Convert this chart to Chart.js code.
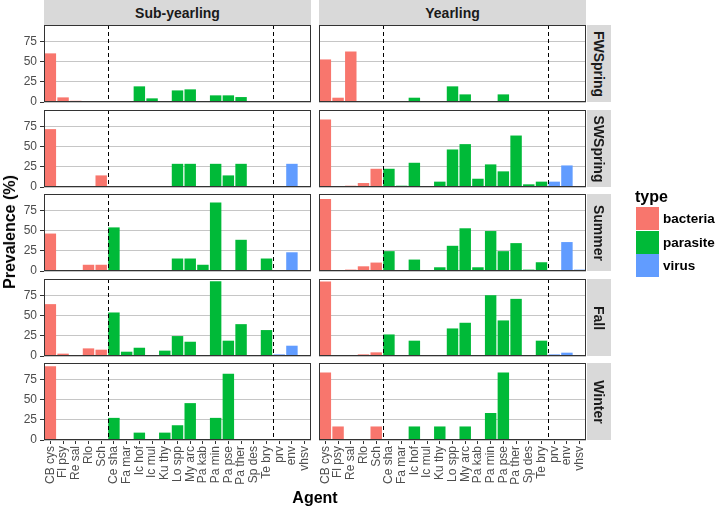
<!DOCTYPE html>
<html>
<head>
<meta charset="utf-8">
<script src="https://cdn.jsdelivr.net/npm/chart.js@4.4.1/dist/chart.umd.min.js"></script>
<style>
  body { margin: 0; background: #fff; }
  #wrap { position: relative; width: 726px; height: 510px; overflow: hidden; font-family: "Liberation Sans", Arial, sans-serif; }
  #wrap canvas { position: absolute; left: 0; top: 0; }
  .strip { position: absolute; background: #D9D9D9; color: #1A1A1A; font-weight: bold; font-size: 14px;
           display: flex; align-items: center; justify-content: center; white-space: nowrap; }
  .strip.side span { transform: rotate(90deg); }
  .title { position: absolute; font-weight: bold; font-size: 16px; color: #000; white-space: nowrap; }
  .key { position: absolute; width: 23px; height: 23px; }
  .keylab { position: absolute; font-weight: bold; font-size: 13.5px; color: #000; white-space: nowrap; line-height: 23px; }
</style>
</head>
<body>
<div id="wrap"></div>
<script>
// agents along the x axis, with their type
const agents = ['CB cys', 'Fl psy', 'Re sal', 'Rlo', 'Sch',
  'Ce sha', 'Fa mar', 'Ic hof', 'Ic mul', 'Ku thy', 'Lo spp', 'My arc', 'Pa kab',
  'Pa min', 'Pa pse', 'Pa ther', 'Sp des', 'Te bry',
  'prv', 'env', 'vhsv'];
const agentType = ['bacteria', 'bacteria', 'bacteria', 'bacteria', 'bacteria',
  'parasite', 'parasite', 'parasite', 'parasite', 'parasite', 'parasite', 'parasite', 'parasite',
  'parasite', 'parasite', 'parasite', 'parasite', 'parasite',
  'virus', 'virus', 'virus'];
const types = ['bacteria', 'parasite', 'virus'];
const dividers = ['Sch', 'Te bry'];   // dashed line after these agents

const ages = ['Sub-yearling', 'Yearling'];
const seasons = ['FWSpring', 'SWSpring', 'Summer', 'Fall', 'Winter'];
const yTicks = [0, 25, 50, 75];

// prevalence (%) by agent
const subFWSpring = [60, 5.7, 1.5, 0, 0, 0, 0, 19.3, 4.5, 0, 14.3, 15.6, 0, 8.2, 8.2, 6.1, 0, 0, 0, 0, 0];
const subSWSpring = [71.4, 0, 0, 0, 14.3, 0, 0, 0, 0, 0, 28.6, 28.6, 0, 28.6, 14.3, 28.6, 0, 0, 0, 28.6, 0];
const subSummer   = [46.2, 0, 0, 7.7, 7.7, 53.8, 0, 0, 0, 0, 15.4, 15.4, 7.7, 84.6, 0, 38.5, 0, 15.4, 0, 23.1, 0];
const subFall     = [64, 2.9, 0, 9.4, 7.8, 53.7, 5.3, 10.2, 0, 6.6, 24.6, 17.6, 0, 92.2, 18.9, 39.3, 0, 32, 2, 12.7, 0];
const subWinter   = [90.9, 0, 0, 0, 0, 27.3, 0, 9.1, 0, 9.1, 18.2, 45.5, 0, 27.3, 81.8, 0, 0, 0, 0, 0, 0];

const yrlFWSpring = [52.5, 5.3, 62.3, 0, 0, 0, 0, 5.3, 0, 0, 19.3, 9.4, 0, 0, 9.4, 0, 0, 0, 0, 0, 0];
const yrlSWSpring = [83.2, 0, 1.6, 4.9, 22.5, 22.5, 1.6, 29.9, 0, 6.6, 46.3, 52.9, 10.2, 27.9, 19.3, 63.5, 3.3, 6.6, 6.6, 26.6, 0];
const yrlSummer   = [88.7, 0, 1.7, 5.8, 10.4, 24.5, 0, 14.1, 0, 4.6, 31.1, 52.7, 4.6, 49.3, 24.5, 34.4, 1.7, 10.8, 0, 35.7, 1.7];
const yrlFall     = [91.8, 0, 0, 2, 4.5, 26.6, 0, 18.9, 0, 0, 34, 41, 0, 75, 43.9, 70.5, 0, 18.9, 2, 4.1, 0];
const yrlWinter   = [83.3, 16.7, 0, 0, 16.7, 0, 0, 16.7, 0, 16.7, 0, 16.7, 0, 33.3, 83.3, 0, 0, 0, 0, 0, 0];

const facetValues = [
  [subFWSpring, subSWSpring, subSummer, subFall, subWinter],
  [yrlFWSpring, yrlSWSpring, yrlSummer, yrlFall, yrlWinter]
];

const typeColors = { bacteria: '#F8766D', parasite: '#00BA38', virus: '#619CFF' };

// panel geometry
const W = 726, H = 510;
const panelLeft = [44, 319];
const panelW = 267;
const panelTop = [25, 110, 194, 279, 363];
const panelH = 77;
const yAxisW = 44;
const xAxisH = 70;

Chart.defaults.font.family = '"Liberation Sans", Arial, sans-serif';

const panelDecor = {
  id: 'panelDecor',
  afterDraw(chart) {
    const { ctx, chartArea: a } = chart;
    const x = chart.scales.x;
    ctx.save();
    ctx.strokeStyle = '#000';
    ctx.lineWidth = 1;
    ctx.setLineDash([4, 3]);
    dividers.forEach(name => {
      const i = agents.indexOf(name);
      const px = Math.round((x.getPixelForValue(i) + x.getPixelForValue(i + 1)) / 2) + 0.5;
      ctx.beginPath();
      ctx.moveTo(px, a.top);
      ctx.lineTo(px, a.bottom);
      ctx.stroke();
    });
    ctx.setLineDash([]);
    ctx.strokeStyle = '#333333';
    ctx.strokeRect(a.left + 0.5, a.top + 0.5, a.right - a.left - 1, a.bottom - a.top - 1);
    ctx.restore();
  }
};

const wrap = document.getElementById('wrap');

function makePanel(values, col, row) {
  const canvas = document.createElement('canvas');
  canvas.width = W;
  canvas.height = H;
  wrap.appendChild(canvas);

  const isLeft = col === 0;
  const isBottom = row === seasons.length - 1;
  const l = panelLeft[col], r = panelLeft[col] + panelW;
  const t = panelTop[row], b = panelTop[row] + panelH;

  new Chart(canvas.getContext('2d'), {
    type: 'bar',
    data: {
      labels: agents,
      datasets: [{
        data: values,
        backgroundColor: agentType.map(tp => typeColors[tp]),
        borderWidth: 0,
        barPercentage: 0.9,
        categoryPercentage: 1
      }]
    },
    options: {
      responsive: false,
      animation: false,
      devicePixelRatio: 1,
      layout: {
        padding: {
          left: isLeft ? l - yAxisW : l,
          right: W - r,
          top: t,
          bottom: isBottom ? H - b - xAxisH : H - b
        }
      },
      plugins: {
        legend: { display: false },
        tooltip: { enabled: false }
      },
      scales: {
        x: {
          display: isBottom,
          grid: { offset: false, color: 'rgba(0,0,0,0)', drawTicks: true, tickLength: 4, tickColor: '#333333' },
          border: { display: false },
          ticks: {
            autoSkip: false,
            minRotation: 90,
            maxRotation: 90,
            padding: 2,
            color: '#4D4D4D',
            font: { size: 12 }
          },
          afterFit: s => { s.height = isBottom ? xAxisH : 0; }
        },
        y: {
          min: 0,
          max: 95,
          afterBuildTicks: s => { s.ticks = yTicks.map(v => ({ value: v })); },
          grid: { color: '#C6C6C6', drawTicks: isLeft, tickLength: 4, tickColor: '#333333' },
          border: { display: false },
          ticks: {
            display: isLeft,
            padding: 3,
            color: '#4D4D4D',
            font: { size: 12 }
          },
          afterFit: s => { s.width = isLeft ? yAxisW : 0; }
        }
      }
    },
    plugins: [panelDecor]
  });
}

ages.forEach((age, col) => {
  seasons.forEach((season, row) => makePanel(facetValues[col][row], col, row));
  const s = document.createElement('div');
  s.className = 'strip';
  s.style.left = panelLeft[col] + 'px';
  s.style.top = '0px';
  s.style.width = panelW + 'px';
  s.style.height = (panelTop[0]) + 'px';
  s.innerHTML = '<span>' + age + '</span>';
  wrap.appendChild(s);
});

seasons.forEach((season, row) => {
  const s = document.createElement('div');
  s.className = 'strip side';
  s.style.left = (panelLeft[1] + panelW + 1) + 'px';
  s.style.top = panelTop[row] + 'px';
  s.style.width = '24px';
  s.style.height = panelH + 'px';
  s.innerHTML = '<span>' + season + '</span>';
  wrap.appendChild(s);
});

// axis titles
const yTitle = document.createElement('div');
yTitle.className = 'title';
yTitle.textContent = 'Prevalence (%)';
yTitle.style.left = '10px';
yTitle.style.top = '232px';
yTitle.style.transform = 'translate(-50%, -50%) rotate(-90deg)';
wrap.appendChild(yTitle);

const xTitle = document.createElement('div');
xTitle.className = 'title';
xTitle.textContent = 'Agent';
xTitle.style.left = '315px';
xTitle.style.top = '498px';
xTitle.style.transform = 'translate(-50%, -50%)';
wrap.appendChild(xTitle);

// legend
const legTitle = document.createElement('div');
legTitle.className = 'title';
legTitle.textContent = 'type';
legTitle.style.left = '635px';
legTitle.style.top = '197px';
legTitle.style.transform = 'translateY(-50%)';
wrap.appendChild(legTitle);

types.forEach((tp, i) => {
  const k = document.createElement('div');
  k.className = 'key';
  k.style.left = '636px';
  k.style.top = (207 + i * 23.5) + 'px';
  k.style.background = typeColors[tp];
  wrap.appendChild(k);
  const lab = document.createElement('div');
  lab.className = 'keylab';
  lab.textContent = tp;
  lab.style.left = '663px';
  lab.style.top = (207 + i * 23.5) + 'px';
  wrap.appendChild(lab);
});
</script>
</body>
</html>
